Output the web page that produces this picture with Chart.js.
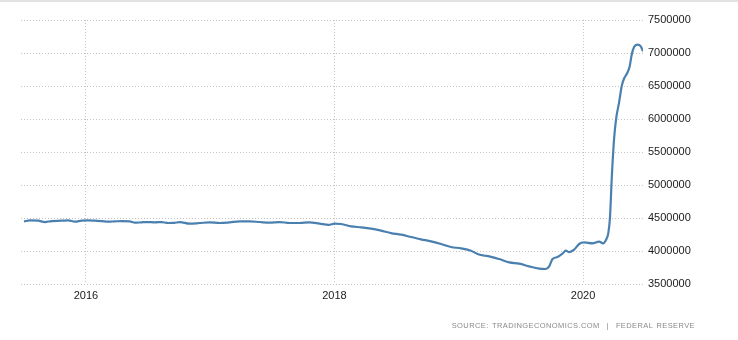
<!DOCTYPE html>
<html lang="en">
<head>
    <meta charset="UTF-8">
    <title>Balance Sheet</title>
    <script src="https://cdn.jsdelivr.net/npm/chart.js"></script>
    <style>
        * {
            padding: 0;
            margin: 0;
        }

        body {
            background-color: #ffffff;
            width: 738px;
            height: 340px;
            overflow: hidden;
            position: relative;
        }

        .topo {
            position: absolute;
            top: 0;
            left: 0;
            width: 738px;
            height: 2px;
            background-color: #e2e2e2;
        }

        .fonte {
            position: absolute;
            right: 43px;
            top: 321px;
            font-family: "Liberation Sans", Arial, sans-serif;
            font-size: 7.5px;
            letter-spacing: 0.4px;
            word-spacing: 1px;
            color: #8a8a8a;
        }
    </style>
</head>
<body>
    <div class="topo"></div>
    <canvas id="lineChart" width="738" height="340"></canvas>
    <div class="fonte">SOURCE: TRADINGECONOMICS.COM &nbsp;|&nbsp; FEDERAL RESERVE</div>

    <script>
        // weeks as fractional years, total assets in millions of dollars
        const period = [
            2015.502, 2015.550, 2015.617, 2015.671, 2015.724, 2015.805, 2015.858, 2015.912, 2015.965,
            2016.019, 2016.072, 2016.126, 2016.179, 2016.233, 2016.286, 2016.353, 2016.394, 2016.447,
            2016.501, 2016.554, 2016.608, 2016.661, 2016.709, 2016.755, 2016.835, 2016.916, 2016.996,
            2017.076, 2017.157, 2017.237, 2017.317, 2017.398, 2017.478, 2017.558, 2017.639, 2017.719,
            2017.799, 2017.880, 2017.954, 2018.000, 2018.054, 2018.134, 2018.214, 2018.295, 2018.375,
            2018.455, 2018.536, 2018.616, 2018.696, 2018.777, 2018.857, 2018.937, 2019.018, 2019.098,
            2019.151, 2019.200, 2019.245, 2019.325, 2019.406, 2019.486, 2019.566, 2019.647, 2019.700,
            2019.727, 2019.754, 2019.794, 2019.834, 2019.861, 2019.888, 2019.928, 2019.968, 2020.008,
            2020.075, 2020.129, 2020.161, 2020.182, 2020.203, 2020.217, 2020.230, 2020.249, 2020.267,
            2020.289, 2020.311, 2020.329, 2020.356, 2020.375, 2020.391, 2020.410, 2020.437, 2020.464,
            2020.482
        ];

        const assets = [
            4449000, 4464000, 4459000, 4439000, 4454000, 4459000, 4464000, 4444000, 4459000,
            4464000, 4459000, 4454000, 4444000, 4449000, 4454000, 4449000, 4429000, 4434000,
            4439000, 4434000, 4439000, 4424000, 4426000, 4439000, 4414000, 4424000, 4434000,
            4424000, 4434000, 4449000, 4449000, 4439000, 4429000, 4439000, 4424000, 4424000,
            4434000, 4414000, 4395000, 4414000, 4409000, 4373000, 4358000, 4338000, 4308000,
            4272000, 4247000, 4212000, 4177000, 4146000, 4106000, 4061000, 4040000, 4005000,
            3955000, 3932000, 3919000, 3878000, 3828000, 3808000, 3767000, 3732000, 3727000,
            3767000, 3878000, 3909000, 3959000, 4005000, 3984000, 4020000, 4106000, 4131000,
            4116000, 4141000, 4116000, 4160000, 4270000, 4525000, 5080000, 5690000, 6020000,
            6245000, 6500000, 6610000, 6700000, 6800000, 6975000, 7090000, 7126000, 7100000,
            7025000
        ];

        const anos = [2016, 2018, 2020];
        const yMin = 3500000;
        const yMax = 7500000;
        const yStep = 500000;

        let pontos = period.map((p, i) => ({ x: p, y: assets[i] }));

        let fonteEixo = { family: "'Liberation Sans', Arial, sans-serif", size: 11 };

        let ctx = document.getElementById('lineChart').getContext('2d');
        let lineChart = new Chart(ctx, {
            type: 'line',
            data: {
                datasets: [{
                    label: 'Central Bank Balance Sheet',
                    data: pontos,
                    borderColor: '#4a80b0',
                    borderWidth: 2.2,
                    pointRadius: 0,
                    fill: false,
                    cubicInterpolationMode: 'monotone'
                }]
            },
            options: {
                responsive: false,
                animation: false,
                layout: {
                    padding: { left: 21, top: 20, right: 0, bottom: 0 }
                },
                plugins: {
                    legend: { display: false },
                    tooltip: { enabled: false }
                },
                scales: {
                    x: {
                        type: 'linear',
                        min: 2015.478,
                        max: 2020.482,
                        afterBuildTicks: (scale) => {
                            scale.ticks = anos.map(a => ({ value: a }));
                        },
                        afterFit: (scale) => {
                            scale.height = 56;
                        },
                        grid: {
                            color: '#c4c4c4',
                            lineWidth: 1,
                            drawTicks: false
                        },
                        border: { display: false, dash: [1, 2] },
                        ticks: {
                            padding: 5,
                            color: '#1a1a1a',
                            font: fonteEixo,
                            maxRotation: 0,
                            callback: (v) => String(v)
                        }
                    },
                    y: {
                        position: 'right',
                        min: yMin,
                        max: yMax,
                        afterFit: (scale) => {
                            scale.width = 95;
                        },
                        grid: {
                            color: '#c4c4c4',
                            lineWidth: 1,
                            drawTicks: false
                        },
                        border: { display: false, dash: [1, 2] },
                        ticks: {
                            stepSize: yStep,
                            padding: 5,
                            color: '#1a1a1a',
                            font: fonteEixo,
                            callback: (v) => String(v)
                        }
                    }
                }
            }
        });
    </script>
</body>
</html>
